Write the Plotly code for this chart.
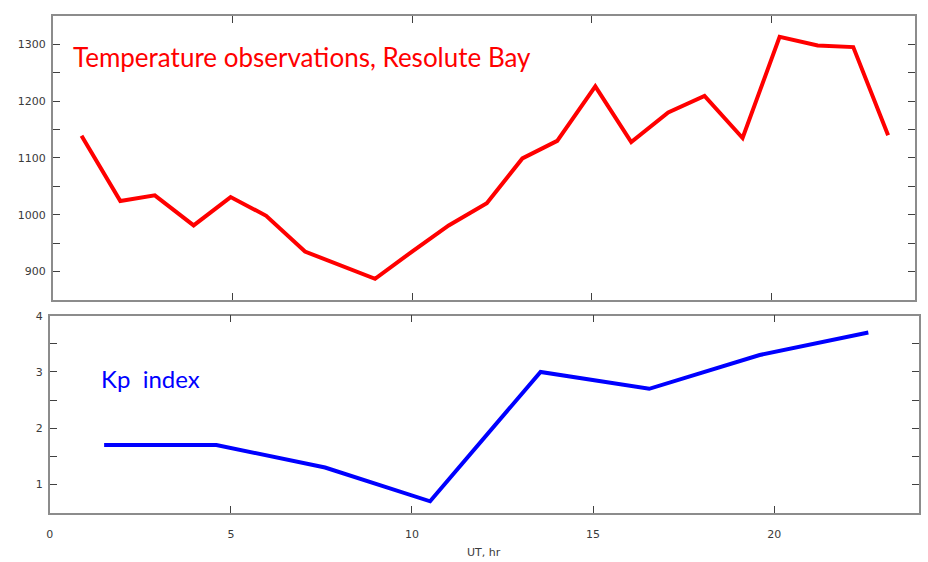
import plotly.graph_objects as go

# Hourly temperature observations, Resolute Bay
temp_ut = [0.8, 1.88, 2.84, 3.92, 4.95, 5.94, 7.02, 8.97, 10.0, 11.02,
           12.08, 13.07, 14.04, 15.1, 16.1, 17.13, 18.14, 19.2, 20.23,
           21.29, 22.28, 23.25]
temp_val = [1139, 1024, 1034, 981, 1031, 998, 935, 887, 935, 981,
            1020, 1099, 1130, 1226, 1128, 1180, 1209, 1135, 1313,
            1298, 1295, 1140]

# Three-hourly Kp index
kp_ut = [1.5, 4.6, 7.6, 10.5, 13.55, 16.55, 19.6, 22.6]
kp_val = [1.7, 1.7, 1.3, 0.7, 3.0, 2.7, 3.3, 3.7]

x_ticks = [0, 5, 10, 15, 20]
temp_ticks = [900, 1000, 1100, 1200, 1300]
kp_ticks = [1, 2, 3, 4]

W, H = 928, 562
FRAME = "#8c8c8c"
TICK = "#404040"
TXT = "#3a3a3a"
TICKFONT = dict(family="DejaVu Sans", size=11, color=TXT)


def px_x(p):
    return p / W


def px_y(p):
    return 1 - p / H


fig = go.Figure()
fig.add_trace(go.Scatter(x=temp_ut, y=temp_val, mode="lines",
                         line=dict(color="#ff0000", width=4),
                         xaxis="x", yaxis="y", showlegend=False))
fig.add_trace(go.Scatter(x=kp_ut, y=kp_val, mode="lines",
                         line=dict(color="#0000ff", width=4),
                         xaxis="x2", yaxis="y2", showlegend=False))

common_axis = dict(showline=True, linecolor=FRAME, linewidth=1.5, mirror="ticks",
                   ticks="inside", ticklen=7, tickcolor=TICK, tickwidth=1,
                   showgrid=False, zeroline=False, tickfont=TICKFONT)

fig.update_layout(
    width=W, height=H,
    margin=dict(l=0, r=0, t=0, b=0),
    paper_bgcolor="white", plot_bgcolor="white",
    xaxis=dict(common_axis, domain=[px_x(49), px_x(915)], range=[0, 24],
               tickvals=x_ticks, showticklabels=False, anchor="y"),
    yaxis=dict(common_axis, domain=[px_y(297), px_y(10)], range=[850, 1350],
               tickvals=temp_ticks, ticklabelstandoff=3, anchor="x",
               minor=dict(dtick=50, tick0=0, ticks="inside", ticklen=7,
                          tickcolor=TICK, showgrid=False)),
    xaxis2=dict(common_axis, domain=[px_x(46), px_x(919)], range=[0, 24],
                tickvals=x_ticks, ticklabelstandoff=11, anchor="y2"),
    yaxis2=dict(common_axis, domain=[px_y(512), px_y(313)], range=[0.5, 4],
                tickvals=kp_ticks, ticklabelstandoff=3, anchor="x2",
                minor=dict(dtick=0.5, tick0=0, ticks="inside", ticklen=7,
                           tickcolor=TICK, showgrid=False)),
    annotations=[
        dict(text="Temperature observations, Resolute Bay", xref="paper", yref="paper",
             x=px_x(67), y=px_y(52), xanchor="left", yanchor="middle", showarrow=False,
             font=dict(family="Lato", size=26, color="#ff0000")),
        dict(text="Kp&nbsp;&nbsp;index", xref="paper", yref="paper",
             x=px_x(95), y=px_y(377), xanchor="left", yanchor="middle", showarrow=False,
             font=dict(family="Lato", size=24, color="#0000ff")),
        dict(text="UT, hr", xref="paper", yref="paper",
             x=px_x(482.5), y=px_y(552), xanchor="center", yanchor="middle",
             showarrow=False, font=TICKFONT),
    ],
)

fig.write_html("out.html")
